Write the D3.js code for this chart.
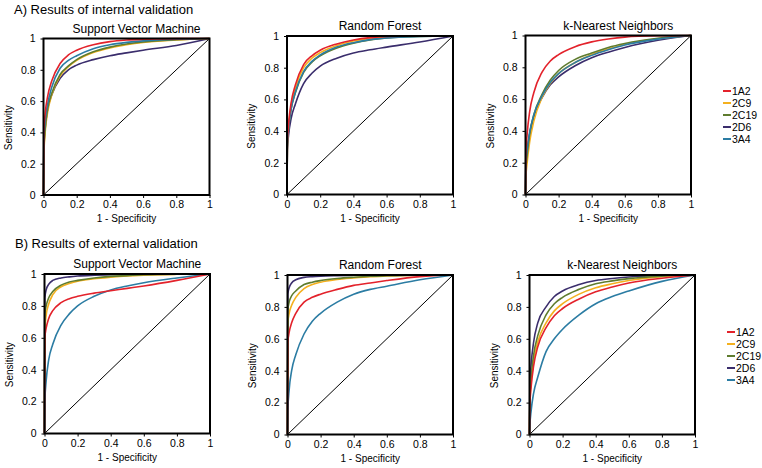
<!DOCTYPE html>
<html><head><meta charset="utf-8">
<script src="https://cdn.jsdelivr.net/npm/d3@7"></script>
<style>body{margin:0;background:#fff}svg{display:block}text{font-family:"Liberation Sans",Arial,sans-serif;fill:#000}</style>
</head><body><svg id="c" width="762" height="468"></svg>
<script>
// ---- data ----
const seriesNames = ["1A2", "2C9", "2C19", "2D6", "3A4"];
const seriesColors = ["#e3222b", "#f4b01e", "#5f7c2e", "#3a2d6c", "#2b7ca3"];
const fpr = [0, 0.002, 0.01, 0.025, 0.05, 0.1, 0.15, 0.2, 0.3, 0.4, 0.5, 0.6, 0.8, 1];
const ticks = [0, 0.2, 0.4, 0.6, 0.8, 1];
const tickLabels = ["0", "0.2", "0.4", "0.6", "0.8", "1"];
const sectionTitles = ["A) Results of internal validation", "B) Results of external validation"];
const methodTitles = ["Support Vector Machine", "Random Forest", "k-Nearest Neighbors"];

const internalSVM = [
  [0, 0.40, 0.52, 0.63, 0.73, 0.84, 0.895, 0.925, 0.96, 0.98, 0.99, 0.995, 0.999, 1],
  [0, 0.25, 0.40, 0.53, 0.64, 0.76, 0.82, 0.86, 0.91, 0.94, 0.96, 0.975, 0.99, 1],
  [0, 0.28, 0.42, 0.55, 0.65, 0.77, 0.825, 0.865, 0.915, 0.945, 0.965, 0.978, 0.992, 1],
  [0, 0.30, 0.43, 0.55, 0.64, 0.745, 0.80, 0.83, 0.865, 0.89, 0.908, 0.925, 0.955, 1],
  [0, 0.35, 0.47, 0.58, 0.69, 0.81, 0.86, 0.89, 0.935, 0.96, 0.975, 0.985, 0.995, 1]
];
const internalRF = [
  [0, 0.32, 0.45, 0.58, 0.69, 0.82, 0.875, 0.91, 0.95, 0.975, 0.99, 0.997, 1, 1],
  [0, 0.30, 0.43, 0.56, 0.67, 0.80, 0.86, 0.895, 0.94, 0.968, 0.985, 0.994, 0.999, 1],
  [0, 0.30, 0.42, 0.54, 0.64, 0.77, 0.835, 0.875, 0.925, 0.955, 0.975, 0.987, 0.997, 1],
  [0, 0.28, 0.38, 0.48, 0.57, 0.70, 0.765, 0.81, 0.86, 0.893, 0.913, 0.93, 0.962, 1],
  [0, 0.30, 0.42, 0.54, 0.645, 0.775, 0.84, 0.88, 0.93, 0.958, 0.977, 0.988, 0.997, 1]
];
const internalKNN = [
  [0, 0.25, 0.38, 0.52, 0.64, 0.77, 0.84, 0.88, 0.93, 0.96, 0.978, 0.99, 0.998, 1],
  [0, 0.10, 0.20, 0.33, 0.46, 0.61, 0.70, 0.76, 0.83, 0.88, 0.915, 0.945, 0.98, 1],
  [0, 0.15, 0.25, 0.38, 0.50, 0.63, 0.72, 0.78, 0.85, 0.89, 0.925, 0.95, 0.983, 1],
  [0, 0.18, 0.27, 0.38, 0.49, 0.61, 0.69, 0.74, 0.81, 0.86, 0.895, 0.925, 0.97, 1],
  [0, 0.20, 0.28, 0.39, 0.50, 0.62, 0.705, 0.76, 0.83, 0.875, 0.91, 0.94, 0.977, 1]
];
const externalSVM = [
  [0, 0.60, 0.66, 0.72, 0.77, 0.82, 0.845, 0.86, 0.88, 0.895, 0.91, 0.925, 0.96, 1],
  [0, 0.65, 0.74, 0.81, 0.87, 0.92, 0.94, 0.955, 0.97, 0.98, 0.988, 0.993, 0.998, 1],
  [0, 0.75, 0.80, 0.85, 0.89, 0.93, 0.95, 0.96, 0.975, 0.985, 0.99, 0.995, 0.999, 1],
  [0, 0.85, 0.90, 0.935, 0.96, 0.975, 0.982, 0.987, 0.992, 0.995, 0.997, 0.998, 1, 1],
  [0, 0.20, 0.33, 0.46, 0.56, 0.68, 0.75, 0.80, 0.86, 0.90, 0.925, 0.945, 0.975, 1]
];
const externalRF = [
  [0, 0.58, 0.64, 0.70, 0.76, 0.83, 0.86, 0.88, 0.91, 0.935, 0.95, 0.965, 0.99, 1],
  [0, 0.70, 0.76, 0.81, 0.86, 0.915, 0.94, 0.955, 0.972, 0.982, 0.99, 0.994, 0.999, 1],
  [0, 0.78, 0.83, 0.87, 0.90, 0.94, 0.955, 0.965, 0.978, 0.986, 0.992, 0.995, 0.999, 1],
  [0, 0.88, 0.92, 0.95, 0.97, 0.985, 0.99, 0.993, 0.996, 0.998, 0.999, 1, 1, 1],
  [0, 0.15, 0.28, 0.40, 0.50, 0.63, 0.71, 0.76, 0.83, 0.88, 0.91, 0.93, 0.97, 1]
];
const externalKNN = [
  [0, 0.18, 0.30, 0.43, 0.55, 0.67, 0.745, 0.79, 0.85, 0.895, 0.925, 0.95, 0.98, 1],
  [0, 0.20, 0.33, 0.46, 0.58, 0.70, 0.775, 0.82, 0.88, 0.92, 0.945, 0.965, 0.99, 1],
  [0, 0.22, 0.36, 0.50, 0.62, 0.75, 0.82, 0.86, 0.91, 0.945, 0.963, 0.977, 0.993, 1],
  [0, 0.30, 0.44, 0.58, 0.70, 0.80, 0.865, 0.90, 0.94, 0.965, 0.978, 0.987, 0.997, 1],
  [0, 0.05, 0.15, 0.26, 0.36, 0.52, 0.60, 0.66, 0.75, 0.82, 0.865, 0.90, 0.96, 1]
];

// ---- layout ----
const panels = [
  {data: internalSVM, t: 0, x0: 43.5, x1: 209.5, y0: 38.5, y1: 195},
  {data: internalRF,  t: 1, x0: 287, x1: 453, y0: 36, y1: 194.5},
  {data: internalKNN, t: 2, x0: 525.5, x1: 691, y0: 35.5, y1: 194.5},
  {data: externalSVM, t: 0, x0: 44.5, x1: 210, y0: 274, y1: 433.5},
  {data: externalRF,  t: 1, x0: 287.5, x1: 453, y0: 275, y1: 434.5},
  {data: externalKNN, t: 2, x0: 529.5, x1: 695, y0: 275, y1: 434.5}
];
const svg = d3.select("#c");

svg.append("text").attr("x", 14).attr("y", 14).attr("font-size", 13).text(sectionTitles[0]);
svg.append("text").attr("x", 15).attr("y", 248).attr("font-size", 13).text(sectionTitles[1]);

panels.forEach(p => {
  const x = d3.scaleLinear().domain([0, 1]).range([p.x0, p.x1]);
  const y = d3.scaleLinear().domain([0, 1]).range([p.y1, p.y0]);
  const g = svg.append("g");
  const ax = g.append("g").attr("transform", `translate(0,${p.y1})`)
    .call(d3.axisBottom(x).tickValues(ticks).tickFormat((d, i) => tickLabels[i]).tickSize(3).tickPadding(3));
  const ay = g.append("g").attr("transform", `translate(${p.x0},0)`)
    .call(d3.axisLeft(y).tickValues(ticks).tickFormat((d, i) => tickLabels[i]).tickSize(3).tickPadding(5));
  [ax, ay].forEach(a => {
    a.select(".domain").remove();
    a.selectAll("text").attr("font-size", 10.5).attr("font-family", "Liberation Sans, Arial, sans-serif").attr("fill", "#000");
    a.selectAll("line").attr("stroke", "#000");
  });
  g.append("line").attr("x1", x(0)).attr("y1", y(0)).attr("x2", x(1)).attr("y2", y(1))
    .attr("stroke", "#000").attr("stroke-width", 1);
  const line = d3.line().x((d, i) => x(fpr[i])).y(d => y(d)).curve(d3.curveMonotoneX);
  const order = [3, 1, 2, 4, 0];
  order.forEach(si => {
    g.append("path").attr("d", line(p.data[si])).attr("fill", "none")
      .attr("stroke", seriesColors[si]).attr("stroke-width", 1.6);
  });
  g.append("rect").attr("x", p.x0).attr("y", p.y0).attr("width", p.x1 - p.x0).attr("height", p.y1 - p.y0)
    .attr("fill", "none").attr("stroke", "#000").attr("stroke-width", 2);
  g.append("text").attr("x", (p.x0 + p.x1) / 2 + 10).attr("y", p.y0 - 6).attr("text-anchor", "middle")
    .attr("font-size", 12).text(methodTitles[p.t]);
  g.append("text").attr("x", (p.x0 + p.x1) / 2).attr("y", p.y1 + 27).attr("text-anchor", "middle")
    .attr("font-size", 10).text("1 - Specificity");
  g.append("text").attr("transform", `translate(${p.x0 - 32},${(p.y0 + p.y1) / 2 + 11}) rotate(-90)`)
    .attr("text-anchor", "middle").attr("font-size", 10).text("Sensitivity");
});

[{x: 723, y: 91}, {x: 727, y: 332}].forEach(L => {
  seriesNames.forEach((n, i) => {
    const yy = L.y + i * 12;
    svg.append("line").attr("x1", L.x).attr("x2", L.x + 8).attr("y1", yy).attr("y2", yy)
      .attr("stroke", seriesColors[i]).attr("stroke-width", 2);
    svg.append("text").attr("x", L.x + 9).attr("y", yy + 3.8).attr("font-size", 10.5).text(n);
  });
});
</script></body></html>
